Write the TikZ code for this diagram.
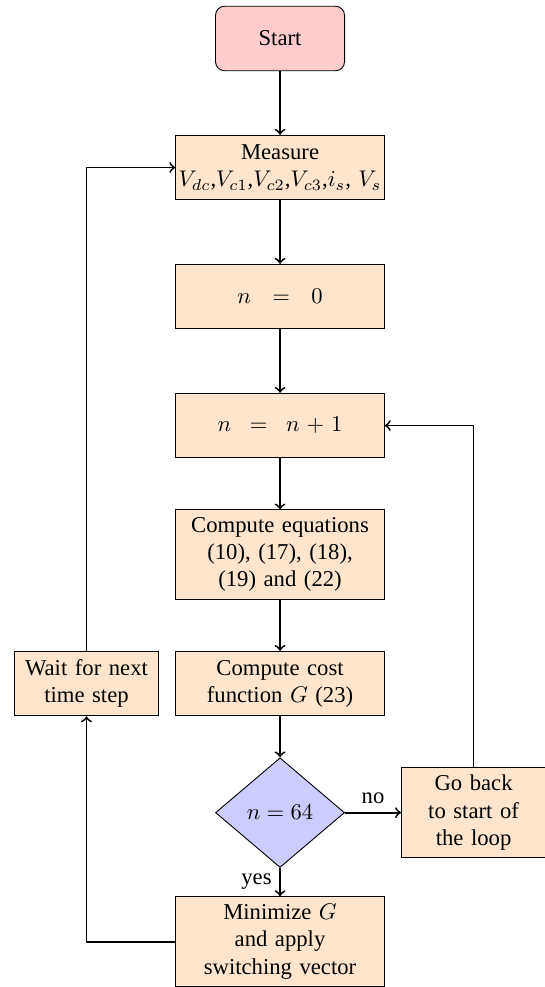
\documentclass[tikz,border=0pt]{standalone}
\usepackage{fontspec}
\setmainfont{Liberation Serif}
\usepackage{amsmath}
\usetikzlibrary{shapes.geometric}

\begin{document}
\begin{tikzpicture}[
	startstop/.style={rectangle, rounded corners, draw, fill=red!20, minimum width=2cm, minimum height=1cm},
	process/.style={rectangle, draw, fill=orange!20, text width=3cm, align=center, minimum height=1cm},
	sideproc/.style={rectangle, draw, fill=orange!20, text width=2cm, align=center, minimum height=1cm},
	decision/.style={diamond, draw, fill=blue!20, minimum width=2cm, minimum height=1.7cm, inner sep=0pt},
	flow/.style={thick, ->}]
	\useasboundingbox (-4.341, 0.597) rectangle (4.093, -14.703);

	\node[startstop] (start) at (0, 0) {Start};
	\node[process] (measure) at (0, -2) {Measure\\ \makebox[3cm]{$V_{dc}$,$V_{c1}$,$V_{c2}$,$V_{c3}$,$i_s$, $V_s$}};
	\node[process] (nzero) at (0, -4) {$n\ =\ 0$};
	\node[process] (nnext) at (0, -6) {$n\ =\ n+1$};
	\node[process] (equations) at (0, -8) {Compute equations (10), (17), (18), (19) and (22)};
	\node[process] (cost) at (0, -10) {Compute cost function $G$ (23)};
	\node[decision] (check) at (0, -12) {$n = 64$};
	\node[process] (minimize) at (0, -14) {Minimize $G$\\ and apply\\ switching vector};
	\node[sideproc] (wait) at (-3, -10) {Wait for next time step};
	\node[sideproc] (goback) at (3, -12) {Go back to start of the loop};

	\draw[flow] (start) -- (measure);
	\draw[flow] (measure) -- (nzero);
	\draw[flow] (nzero) -- (nnext);
	\draw[flow] (nnext) -- (equations);
	\draw[flow] (equations) -- (cost);
	\draw[flow] (cost) -- (check);
	\draw[flow] (check) -- node[left] {yes} (minimize);
	\draw[flow] (check) -- node[above] {no} (goback);
	\draw[flow] (goback.north) |- (nnext.east);
	\draw[flow] (minimize.west) -| (wait.south);
	\draw[flow] (wait.north) |- (measure.west);
\end{tikzpicture}
\end{document}
